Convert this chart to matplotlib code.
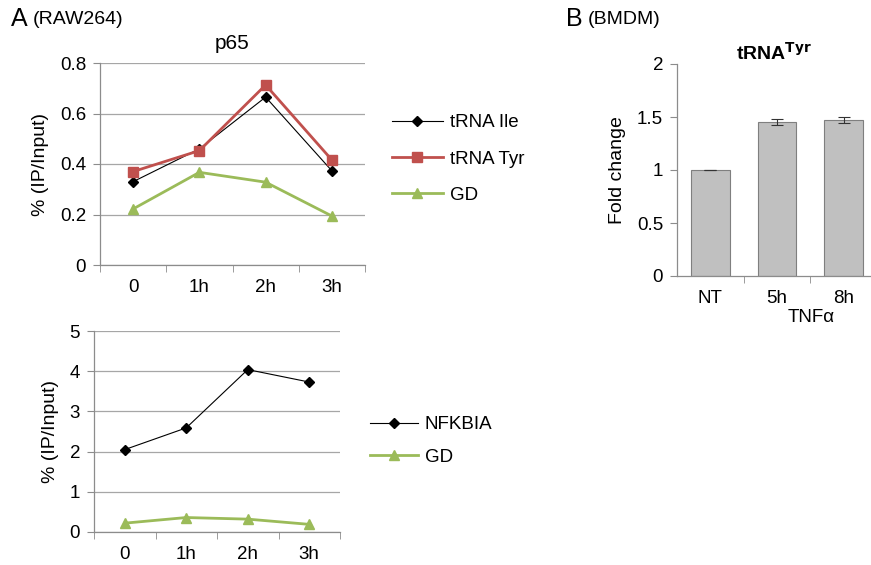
import matplotlib
matplotlib.use("Agg")
import matplotlib.pyplot as plt
import numpy as np

plt.rcParams['font.family'] = ['Liberation Sans', 'DejaVu Sans']

# data
time_labels = ['0', '1h', '2h', '3h']
trna_ile = [0.33, 0.46, 0.665, 0.373]
trna_tyr = [0.37, 0.453, 0.713, 0.416]
gd_top = [0.222, 0.367, 0.328, 0.194]

nfkbia = [2.05, 2.59, 4.04, 3.73]
gd_bottom = [0.22, 0.36, 0.32, 0.19]

bar_labels = ['NT', '5h', '8h']
fold_change = [1.0, 1.45, 1.47]
fold_err = [0.004, 0.03, 0.03]

W, H = 871, 565
RED = '#c0504d'
GREEN = '#9bbb59'
GRID = '#a6a6a6'
SPINE = '#8c8c8c'
TICK_FS = 13.5
LAB_FS = 14


def px_axes(fig, left, top, right, bottom):
    return fig.add_axes([left / W, 1 - bottom / H, (right - left) / W, (bottom - top) / H])


def style_line_axes(ax, ymax, step):
    x = np.arange(len(time_labels))
    ax.set_xlim(-0.5, len(time_labels) - 0.5)
    ax.set_ylim(0, ymax)
    ax.set_yticks(np.arange(0, ymax + step / 2, step))
    ax.set_xticks(x)
    ax.set_xticklabels(time_labels)
    ax.set_xticks(np.arange(-0.5, len(time_labels), 1), minor=True)
    ax.tick_params(axis='x', which='major', length=0, pad=10, labelsize=TICK_FS)
    ax.tick_params(axis='x', which='minor', length=5, color=SPINE, direction='out')
    ax.tick_params(axis='y', length=5, color=SPINE, labelsize=TICK_FS, pad=5)
    ax.yaxis.grid(True, color=GRID, linewidth=0.9)
    ax.set_axisbelow(True)
    for s in ['top', 'right']:
        ax.spines[s].set_visible(False)
    for s in ['left', 'bottom']:
        ax.spines[s].set_color(SPINE)
        ax.spines[s].set_linewidth(0.9)
    ax.set_ylabel('% (IP/Input)', fontsize=LAB_FS, labelpad=8)
    return x


fig = plt.figure(figsize=(W / 100, H / 100), dpi=100)

# top panel: p65
ax1 = px_axes(fig, 100, 63, 365, 265)
x = style_line_axes(ax1, 0.8, 0.2)
ax1.set_yticklabels(['0', '0.2', '0.4', '0.6', '0.8'])
ax1.plot(x, trna_ile, color='black', lw=0.8, marker='D', ms=5, label='tRNA Ile')
ax1.plot(x, trna_tyr, color=RED, lw=2, marker='s', ms=7, label='tRNA Tyr')
ax1.plot(x, gd_top, color=GREEN, lw=2, marker='^', ms=7, label='GD')
ax1.set_title('p65', fontsize=15, pad=10)
ax1.legend(loc='center left', bbox_to_anchor=(392 / W, 1 - 159 / H),
           bbox_transform=fig.transFigure, frameon=False, fontsize=TICK_FS,
           handlelength=2.7, handletextpad=0.37, labelspacing=1.03,
           borderpad=0, borderaxespad=0)

# bottom panel
ax2 = px_axes(fig, 94, 331, 340, 532)
x = style_line_axes(ax2, 5, 1)
ax2.plot(x, nfkbia, color='black', lw=0.8, marker='D', ms=5, label='NFKBIA')
ax2.plot(x, gd_bottom, color=GREEN, lw=2, marker='^', ms=7, label='GD')
ax2.legend(loc='center left', bbox_to_anchor=(370 / W, 1 - 441 / H),
           bbox_transform=fig.transFigure, frameon=False, fontsize=TICK_FS,
           handlelength=2.55, handletextpad=0.37, labelspacing=0.81,
           borderpad=0, borderaxespad=0)

# panel B bars
ax3 = px_axes(fig, 677, 64, 871, 276)
xb = np.arange(len(bar_labels))
ax3.bar(xb, fold_change, width=0.58, color='#c0c0c0', edgecolor='#7f7f7f', linewidth=0.8,
        yerr=fold_err, capsize=4, error_kw=dict(ecolor='#333333', elinewidth=0.8, capthick=0.8))
ax3.set_xlim(-0.5, 2.41)
ax3.set_ylim(0, 2)
ax3.set_yticks([0, 0.5, 1, 1.5, 2])
ax3.set_yticklabels(['0', '0.5', '1', '1.5', '2'])
ax3.set_xticks(xb)
ax3.set_xticklabels(bar_labels)
ax3.set_xticks([0.5, 1.5], minor=True)
ax3.tick_params(axis='x', which='major', length=0, pad=10, labelsize=TICK_FS)
ax3.tick_params(axis='x', which='minor', length=5, color=SPINE, direction='out')
ax3.tick_params(axis='y', length=5, color=SPINE, labelsize=TICK_FS, pad=5)
for s in ['top', 'right']:
    ax3.spines[s].set_visible(False)
for s in ['left', 'bottom']:
    ax3.spines[s].set_color(SPINE)
    ax3.spines[s].set_linewidth(0.9)
ax3.set_ylabel('Fold change', fontsize=LAB_FS, labelpad=8)
ax3.set_title(r'tRNA$^{\mathbf{Tyr}}$', fontsize=14, fontweight='bold', pad=1)
fig.text(811 / W, 1 - 318 / H, 'TNF\u03b1', ha='center', va='center', fontsize=TICK_FS)

# panel letters
fig.text(11 / W, 1 - 19 / H, 'A', ha='left', va='center', fontsize=18)
fig.text(33 / W, 1 - 20 / H, '(RAW264)', ha='left', va='center', fontsize=14)
fig.text(566 / W, 1 - 19 / H, 'B', ha='left', va='center', fontsize=18)
fig.text(588 / W, 1 - 20 / H, '(BMDM)', ha='left', va='center', fontsize=14)

fig.savefig('out.png', dpi=100)
